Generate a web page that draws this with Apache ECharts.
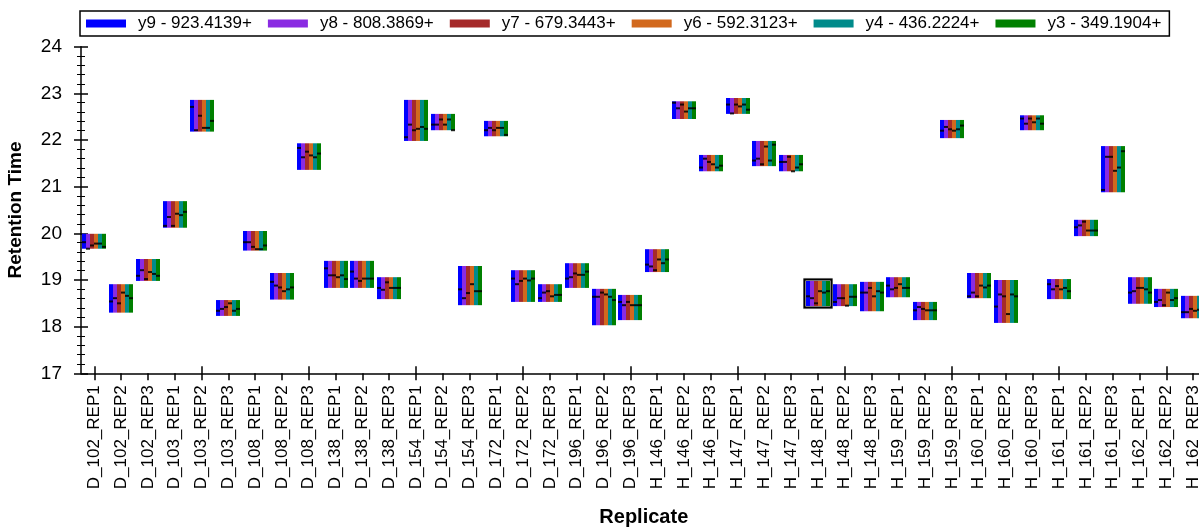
<!DOCTYPE html>
<html>
<head>
<meta charset="utf-8">
<script src="https://cdn.jsdelivr.net/npm/echarts@6/dist/echarts.min.js"></script>
<style>
html,body{margin:0;padding:0;background:#fff;}
#chart{width:1199px;height:527px;}
</style>
</head>
<body>
<div id="chart"></div>
<script>
const replicates = ['D_102_REP1','D_102_REP2','D_102_REP3','D_103_REP1','D_103_REP2','D_103_REP3',
  'D_108_REP1','D_108_REP2','D_108_REP3','D_138_REP1','D_138_REP2','D_138_REP3',
  'D_154_REP1','D_154_REP2','D_154_REP3','D_172_REP1','D_172_REP2','D_172_REP3',
  'D_196_REP1','D_196_REP2','D_196_REP3','H_146_REP1','H_146_REP2','H_146_REP3',
  'H_147_REP1','H_147_REP2','H_147_REP3','H_148_REP1','H_148_REP2','H_148_REP3',
  'H_159_REP1','H_159_REP2','H_159_REP3','H_160_REP1','H_160_REP2','H_160_REP3',
  'H_161_REP1','H_161_REP2','H_161_REP3','H_162_REP1','H_162_REP2','H_162_REP3'];

const transitions = ['y9 - 923.4139+','y8 - 808.3869+','y7 - 679.3443+','y6 - 592.3123+','y4 - 436.2224+','y3 - 349.1904+'];
const transitionColors = ['#0000FF','#8A2BE2','#A52A2A','#D2691E','#008B8B','#008000'];

// peak boundaries (retention time, minutes)
const peakStart = [19.67,18.30,18.98,20.12,22.18,18.23,19.63,18.58,21.36,18.83,18.83,18.59,21.98,22.21,18.46,22.08,18.53,18.53,18.83,18.03,18.14,19.17,22.45,21.33,22.56,21.44,21.33,18.44,18.44,18.33,18.63,18.14,22.04,18.61,18.08,22.21,18.59,19.94,20.88,18.49,18.42,18.18];
const peakEnd   = [19.99,18.91,19.45,20.69,22.86,18.57,20.05,19.15,21.93,19.41,19.41,19.06,22.86,22.56,19.30,22.41,19.21,18.91,19.36,18.81,18.68,19.66,22.83,21.68,22.90,21.98,21.68,18.98,18.91,18.96,19.06,18.53,22.43,19.15,19.00,22.53,19.02,20.29,21.87,19.06,18.81,18.66];

// apex retention times per transition
const apexY9 = [19.81,18.54,19.09,20.16,22.71,18.34,19.81,18.96,21.83,19.25,19.18,18.83,22.06,22.33,18.80,22.21,19.03,18.61,19.03,18.64,18.53,19.33,22.80,21.41,22.76,21.56,21.53,18.65,18.53,18.73,18.88,18.35,22.20,18.65,18.43,22.46,18.91,20.13,20.93,18.73,18.53,18.31];
const apexY8 = [19.67,18.61,19.21,20.35,22.21,18.38,19.81,18.88,21.63,19.10,19.03,18.79,22.33,22.33,18.61,22.26,18.91,18.73,19.06,18.64,18.46,19.29,22.68,21.60,22.57,21.60,21.53,18.61,18.61,18.73,18.80,18.42,22.28,18.73,18.69,22.35,18.80,20.17,21.64,18.76,18.57,18.31];
const apexY7 = [19.74,18.50,19.02,20.16,22.52,18.42,19.71,18.84,21.75,19.10,18.98,18.95,22.21,22.44,18.72,22.21,18.98,18.76,19.14,18.73,18.53,19.21,22.76,21.53,22.76,21.48,21.64,18.50,18.61,18.83,18.83,18.38,22.23,18.65,18.65,22.46,18.87,20.25,21.64,18.83,18.46,18.38];
const apexY6 = [19.78,18.73,19.17,20.42,22.26,18.50,19.66,18.76,21.67,19.06,19.03,18.83,22.24,22.33,18.91,22.26,19.03,18.65,19.11,18.69,18.46,19.44,22.61,21.48,22.72,21.86,21.33,18.76,18.45,18.65,18.91,18.35,22.20,18.88,18.27,22.38,18.80,20.06,21.34,18.83,18.73,18.34];
const apexY4 = [19.78,18.66,19.13,20.39,22.26,18.34,19.66,18.80,21.63,19.10,19.03,18.83,22.28,22.44,18.76,22.26,18.99,18.68,19.11,18.64,18.46,19.36,22.68,21.41,22.76,21.56,21.41,18.73,18.64,18.76,18.83,18.35,22.23,18.84,18.69,22.46,18.83,20.06,21.41,18.80,18.57,18.36];
const apexY3 = [19.71,18.61,19.09,20.46,22.41,18.38,19.74,18.84,21.71,19.02,19.03,18.83,22.24,22.21,18.76,22.11,19.03,18.68,19.18,18.57,18.46,19.44,22.68,21.45,22.65,21.90,21.48,18.76,18.64,18.73,18.83,18.35,22.31,18.88,18.65,22.35,18.76,20.06,21.76,18.73,18.61,18.36];
const apexByTransition = [apexY9, apexY8, apexY7, apexY6, apexY4, apexY3];

const selectedReplicate = 'H_148_REP1';

const FONT = "'Liberation Sans', Arial, sans-serif";
const chart = echarts.init(document.getElementById('chart'), null, {renderer:'canvas'});

function stripeRenderer(k) {
  return function (params, api) {
    const i = api.value(0);
    const band = api.size([1, 0])[0];
    const sw = band * 0.149;
    const pb = api.coord([i, api.value(1)]);
    const top = api.coord([i, api.value(2)])[1];
    const ay = api.coord([i, api.value(3)])[1];
    const x0 = Math.round(pb[0] - 3 * sw + k * sw);
    const x1 = Math.round(pb[0] - 3 * sw + (k + 1) * sw);
    return {
      type: 'group',
      children: [
        {type: 'rect', shape: {x: x0, y: top, width: x1 - x0, height: pb[1] - top},
         style: {fill: transitionColors[k]}},
        {type: 'rect', shape: {x: x0, y: ay - 1, width: x1 - x0, height: 2},
         style: {fill: '#000', opacity: 0.85}}
      ]
    };
  };
}

const series = transitions.map((name, k) => ({
  name: name,
  type: 'custom',
  xAxisIndex: 0,
  yAxisIndex: 0,
  itemStyle: {color: transitionColors[k]},
  renderItem: stripeRenderer(k),
  encode: {x: 0, y: [1, 2, 3]},
  data: replicates.map((r, i) => [i, peakStart[i], peakEnd[i], apexByTransition[k][i]])
}));

const selIdx = replicates.indexOf(selectedReplicate);
series.push({
  name: 'selection',
  type: 'custom',
  xAxisIndex: 0,
  yAxisIndex: 0,
  z: 5,
  renderItem: function (params, api) {
    const i = api.value(0);
    const band = api.size([1, 0])[0];
    const sw = band * 0.149;
    const pb = api.coord([i, api.value(1)]);
    const top = api.coord([i, api.value(2)])[1];
    const x0 = Math.round(pb[0] - 3 * sw) - 1.5;
    const x1 = Math.round(pb[0] + 3 * sw) + 1.5;
    return {
      type: 'group',
      children: [
        {type: 'rect', shape: {x: x0 - 1, y: top - 2.5, width: x1 - x0 + 2, height: pb[1] - top + 5},
         style: {fill: null, stroke: '#bbb', lineWidth: 1}},
        {type: 'rect', shape: {x: x0, y: top - 1.5, width: x1 - x0, height: pb[1] - top + 3},
         style: {fill: null, stroke: '#000', lineWidth: 2}}
      ]
    };
  },
  data: [[selIdx, peakStart[selIdx], peakEnd[selIdx]]]
});

const axisLineStyle = {color: '#000', width: 1.5};

chart.setOption({
  animation: false,
  backgroundColor: '#fff',
  textStyle: {fontFamily: FONT},
  legend: {
    data: transitions,
    left: 80, top: 11,
    icon: 'rect',
    itemWidth: 40, itemHeight: 8, itemGap: 16,
    borderColor: '#000', borderWidth: 1.5,
    padding: [4, 8, 4, 6],
    textStyle: {fontSize: 17, color: '#000', fontFamily: FONT, padding: [0, 0, 0, 7]}
  },
  grid: {left: 81, top: 46.7, width: 1125.6, height: 326.6, containLabel: false, outerBoundsMode: 'none'},
  xAxis: [{
    type: 'category', data: replicates, boundaryGap: true, position: 'bottom',
    axisLine: {show: true, lineStyle: axisLineStyle},
    axisTick: {show: true, alignWithLabel: true, length: 7, lineStyle: axisLineStyle},
    axisLabel: {rotate: 90, interval: 0, fontSize: 17, color: '#000', margin: 12, fontFamily: FONT},
    splitLine: {show: false},
    name: 'Replicate', nameLocation: 'middle', nameGap: 134,
    nameTextStyle: {fontWeight: 'bold', fontSize: 20, color: '#000', fontFamily: FONT}
  }, {
    type: 'category', data: replicates, boundaryGap: true, position: 'bottom',
    axisLine: {show: false},
    axisTick: {show: true, inside: true, alignWithLabel: true, length: 7, lineStyle: axisLineStyle},
    axisLabel: {show: false}, splitLine: {show: false}
  }],
  yAxis: [{
    type: 'value', min: 17, max: 24, interval: 1, position: 'left',
    axisLine: {show: true, lineStyle: axisLineStyle},
    axisTick: {show: true, length: 7, lineStyle: axisLineStyle},
    minorTick: {show: true, splitNumber: 5, length: 4, lineStyle: {color: '#000', width: 1}},
    splitLine: {show: false},
    axisLabel: {fontSize: 19, color: '#000', margin: 19, fontFamily: FONT},
    name: 'Retention Time', nameLocation: 'middle', nameGap: 56,
    nameTextStyle: {fontWeight: 'bold', fontSize: 19, color: '#000', fontFamily: FONT}
  }, {
    type: 'value', min: 17, max: 24, interval: 1, position: 'left',
    axisLine: {show: false},
    axisTick: {show: true, inside: true, length: 7, lineStyle: axisLineStyle},
    minorTick: {show: true, splitNumber: 5, length: 4, lineStyle: {color: '#000', width: 1}},
    splitLine: {show: false},
    axisLabel: {show: false}
  }],
  series: series
});
</script>
</body>
</html>
